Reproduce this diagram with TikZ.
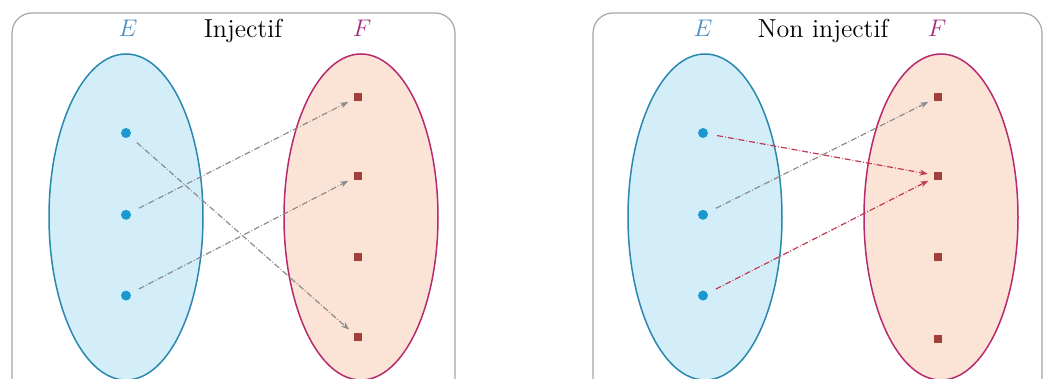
\documentclass[tikz,border=0pt]{standalone}
\usepackage{tikz}
\usetikzlibrary{positioning,arrows.meta,shapes.geometric}
\definecolor{setblue}{HTML}{2A88B0}
\definecolor{setbluefill}{HTML}{D3EEF8}
\definecolor{setpink}{HTML}{B82A6E}
\definecolor{setpinkfill}{HTML}{FBE3D6}
\definecolor{ptblue}{HTML}{1C98D0}
\definecolor{ptred}{HTML}{A0403C}
\definecolor{labblue}{HTML}{4A8CC0}
\definecolor{labpink}{HTML}{A02C7C}
\definecolor{arrgray}{HTML}{8C8C8C}
\definecolor{arrred}{HTML}{C23A52}

\begin{document}
\begin{tikzpicture}[x=0.5pt,y=-0.5pt,>={Stealth[length=4pt,width=3pt]}]
  \tikzstyle{panel}=[draw=gray!70,rounded corners=10pt,line width=0.6pt]
  \tikzstyle{setE}=[draw=setblue,fill=setbluefill,ellipse,inner sep=0pt,minimum width=77pt,minimum height=163pt,line width=0.75pt]
  \tikzstyle{setF}=[setE,draw=setpink,fill=setpinkfill]
  \tikzstyle{dot}=[circle,fill=ptblue,inner sep=0pt,minimum size=5pt]
  \tikzstyle{sq}=[rectangle,fill=ptred,inner sep=0pt,minimum size=4pt]
  \tikzstyle{title}=[anchor=base,font=\fontsize{13}{15}\selectfont]
  \tikzstyle{setname}=[anchor=base,font=\fontsize{12}{14}\selectfont]
  \tikzstyle{map}=[->,densely dashdotted,arrgray,line width=0.6pt,shorten <=4.5pt,shorten >=3pt]
  \tikzstyle{mapred}=[map,arrred]
  \useasboundingbox (0,0) rectangle (1046,379);

  % injectif
  \draw[panel] (12,420) |- (455,13) -- (455,420);
  \node[setE] (aE) at (126,217) {};
  \node[setF] (aF) at (361,217) {};
  \node[setname,text=labblue] (aEn) at (128,37) {$E$};
  \node[title] (at) at (243,38) {Injectif};
  \node[setname,text=labpink] (aFn) at (362,37) {$F$};
  \node[dot] (a1) at (126,133) {};
  \node[dot,below=35.5pt of a1] (a2) {};
  \node[dot,below=35pt of a2] (a3) {};
  \node[sq] (b1) at (358,97) {};
  \node[sq,below=35pt of b1] (b2) {};
  \node[sq,below=36pt of b2] (b3) {};
  \node[sq,below=36pt of b3] (b4) {};
  \draw[map] (a1) -- (b4);
  \draw[map] (a2) -- (b1);
  \draw[map] (a3) -- (b2);

  % non injectif
  \draw[panel] (593,420) |- (1042,13) -- (1042,420);
  \node[setE] (cE) at (705,217) {};
  \node[setF] (cF) at (941,217) {};
  \node[setname,text=labblue] (cEn) at (703,37) {$E$};
  \node[title] (ct) at (823,38) {Non injectif};
  \node[setname,text=labpink] (cFn) at (937,37) {$F$};
  \node[dot] (c1) at (703,133) {};
  \node[dot,below=35.5pt of c1] (c2) {};
  \node[dot,below=35pt of c2] (c3) {};
  \node[sq] (d1) at (938,97) {};
  \node[sq,below=35pt of d1] (d2) {};
  \node[sq,below=36pt of d2] (d3) {};
  \node[sq,below=37pt of d3] (d4) {};
  \draw[mapred] (c1) -- (d2);
  \draw[map] (c2) -- (d1);
  \draw[mapred] (c3) -- (d2);
\end{tikzpicture}
\end{document}
